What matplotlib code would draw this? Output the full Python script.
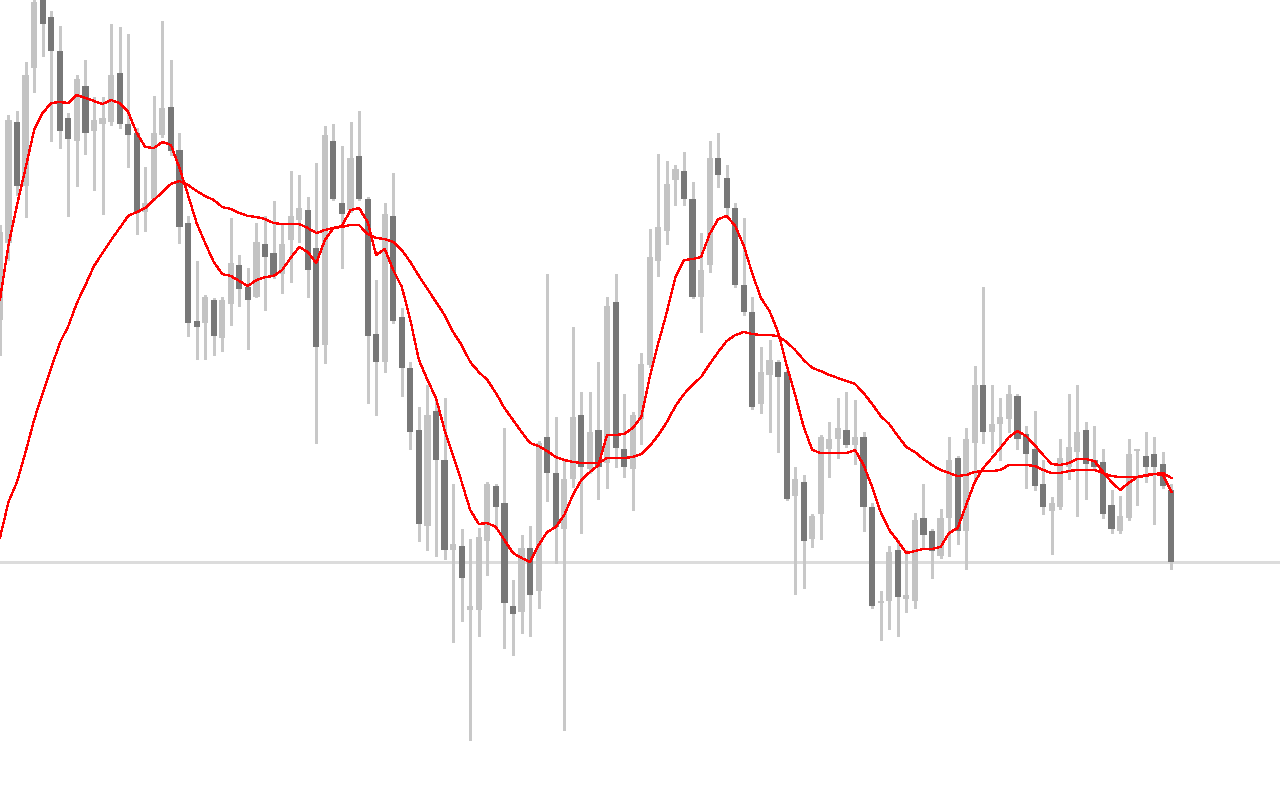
import numpy as np
import matplotlib
matplotlib.use("Agg")
import matplotlib.pyplot as plt

# candle data (price points)
open_ = [480, 557, 678, 614, 732, 800, 783, 749, 682, 659, 714, 669, 676, 678, 727, 676, 667, 588, 601, 665,
         693, 650, 577, 479, 477, 500, 462, 496, 535, 513, 503, 556, 547, 526, 560, 580, 590, 552, 455, 659,
         597, 590, 644, 601, 466, 438, 584, 483, 432, 370, 274, 389, 340, 250, 254, 190, 190, 259, 314, 297,
         194, 188, 252, 209, 363, 327, 271, 321, 385, 331, 370, 337, 498, 351, 331, 381, 435, 539, 569, 620,
         629, 601, 503, 535, 642, 622, 592, 515, 488, 396, 425, 438, 428, 304, 318, 261, 286, 351, 361, 370,
         355, 363, 293, 197, 199, 250, 201, 199, 282, 269, 244, 282, 342, 269, 357, 415, 368, 376, 381, 404,
         366, 351, 316, 289, 293, 333, 348, 370, 340, 338, 295, 269, 282, 349, 344, 346, 336, 310]
high = [575, 685, 689, 738, 815, 812, 789, 774, 687, 725, 740, 703, 703, 776, 773, 766, 672, 633, 704, 779,
        740, 667, 584, 539, 505, 502, 503, 582, 545, 532, 577, 584, 599, 576, 629, 625, 603, 637, 674, 676,
        654, 678, 689, 603, 520, 597, 627, 492, 438, 393, 415, 400, 402, 316, 271, 261, 272, 318, 316, 372,
        220, 265, 274, 359, 526, 383, 340, 473, 408, 408, 438, 503, 526, 406, 388, 447, 571, 646, 639, 635,
        648, 618, 567, 659, 667, 635, 597, 582, 503, 453, 460, 440, 430, 333, 325, 286, 365, 378, 402, 408,
        400, 368, 297, 209, 254, 260, 250, 287, 316, 271, 291, 363, 344, 372, 434, 513, 415, 402, 415, 406,
        374, 389, 340, 303, 361, 406, 415, 378, 374, 351, 310, 304, 361, 351, 368, 363, 348, 316]
low = [445, 540, 605, 583, 708, 744, 659, 652, 584, 614, 646, 610, 586, 675, 672, 633, 566, 569, 600, 663,
       645, 557, 464, 441, 441, 445, 449, 475, 494, 451, 503, 490, 522, 507, 518, 558, 503, 357, 437, 600,
       532, 588, 600, 397, 385, 428, 477, 404, 351, 259, 250, 244, 241, 158, 179, 60, 164, 225, 271, 152,
       145, 167, 164, 192, 299, 237, 70, 313, 267, 327, 301, 312, 333, 323, 290, 356, 433, 524, 556, 595,
       595, 502, 468, 528, 613, 585, 513, 485, 391, 387, 368, 348, 300, 206, 212, 253, 261, 323, 342, 353,
       336, 269, 192, 160, 171, 164, 188, 192, 253, 222, 242, 244, 256, 231, 321, 357, 348, 340, 368, 351,
       312, 310, 286, 246, 291, 321, 284, 301, 331, 282, 267, 267, 280, 295, 318, 276, 312, 231]
close = [568, 680, 614, 725, 798, 776, 749, 669, 661, 721, 667, 680, 682, 725, 676, 665, 587, 597, 667, 692,
         649, 573, 477, 473, 503, 464, 500, 537, 511, 500, 558, 543, 524, 556, 584, 592, 530, 453, 665, 601,
         586, 642, 601, 464, 438, 586, 479, 432, 368, 276, 385, 340, 250, 256, 222, 194, 263, 316, 293, 197,
         186, 252, 205, 357, 327, 273, 321, 383, 333, 368, 333, 494, 352, 333, 385, 436, 543, 573, 616, 631,
         601, 503, 530, 642, 625, 592, 515, 488, 393, 428, 440, 423, 301, 321, 259, 284, 363, 361, 372, 355,
         363, 293, 194, 199, 248, 203, 205, 280, 265, 249, 282, 340, 269, 361, 415, 368, 376, 383, 406, 361,
         346, 314, 293, 297, 342, 353, 368, 336, 333, 286, 271, 284, 346, 351, 333, 333, 314, 238]

# moving averages as drawn on the chart
ma_fast = [500, 555, 595, 632, 670, 687, 697, 698, 697, 705, 702, 699, 696, 700, 697, 688, 667, 653, 652, 658,
           655, 632, 605, 577, 557, 538, 526, 524, 519, 514, 520, 523, 524, 530, 542, 553, 548, 537, 560, 572,
           574, 590, 592, 578, 545, 551, 530, 513, 480, 440, 420, 402, 370, 344, 318, 290, 276, 277, 273, 260,
           247, 242, 238, 255, 268, 273, 285, 305, 320, 328, 335, 365, 365, 366, 372, 383, 423, 457, 488, 523,
           540, 541, 543, 566, 581, 584, 574, 554, 526, 502, 489, 468, 435, 405, 373, 350, 347, 347, 347, 347,
           350, 335, 313, 288, 270, 259, 247, 249, 251, 251, 253, 267, 272, 295, 318, 332, 342, 352, 363, 369,
           364, 355, 345, 336, 335, 337, 341, 341, 339, 328, 318, 310, 317, 323, 325, 326, 325, 308]
ma_slow = [262, 298, 318, 348, 380, 407, 432, 457, 474, 497, 515, 534, 547, 560, 572, 584, 588, 592, 600, 608,
           616, 619, 615, 609, 604, 600, 593, 591, 587, 584, 583, 581, 577, 576, 576, 576, 572, 567, 570, 572,
           573, 575, 575, 566, 562, 561, 558, 550, 538, 524, 511, 498, 485, 468, 455, 438, 428, 420, 407, 392,
           380, 368, 357, 354, 349, 343, 340, 338, 337, 337, 337, 342, 342, 342, 343, 346, 354, 365, 378, 394,
           406, 415, 423, 436, 448, 459, 465, 468, 466, 465, 465, 464, 458, 450, 440, 432, 429, 425, 422, 419,
           416, 407, 396, 384, 376, 364, 353, 348, 341, 335, 330, 327, 324, 325, 328, 329, 329, 330, 335, 335,
           335, 334, 330, 327, 327, 329, 330, 330, 330, 327, 324, 323, 323, 323, 324, 326, 327, 322]

UP = "#c3c3c3"
DOWN = "#787878"
WICK = "#c8c8c8"

o = np.array(open_)
h = np.array(high)
l = np.array(low)
c = np.array(close)
x = np.arange(len(o))

fig = plt.figure(figsize=(12.8, 8), dpi=100)
ax = fig.add_axes([0, 0, 1, 1])

# bid line at last close
ax.axhline(c[-1], color="#dcdcdc", lw=0.75, zorder=0, antialiased=False)

ax.vlines(x, l, h, color=WICK, lw=0.75, zorder=1, antialiased=False)
up = c >= o
cols = [UP if u else DOWN for u in up]
bottom = np.minimum(o, c)
height = np.maximum(np.abs(c - o), 1)
ax.bar(x, height, bottom=bottom, width=0.72, color=cols, linewidth=0, zorder=2, antialiased=False)

ax.plot(x, ma_slow, color="red", lw=0.9, zorder=3, antialiased=False)
ax.plot(x, ma_fast, color="red", lw=0.9, zorder=3, antialiased=False)

ax.set_xlim(0.01, 149.7)
ax.set_ylim(0, 800)
ax.axis("off")

fig.savefig("out.png", dpi=100, facecolor="white")
